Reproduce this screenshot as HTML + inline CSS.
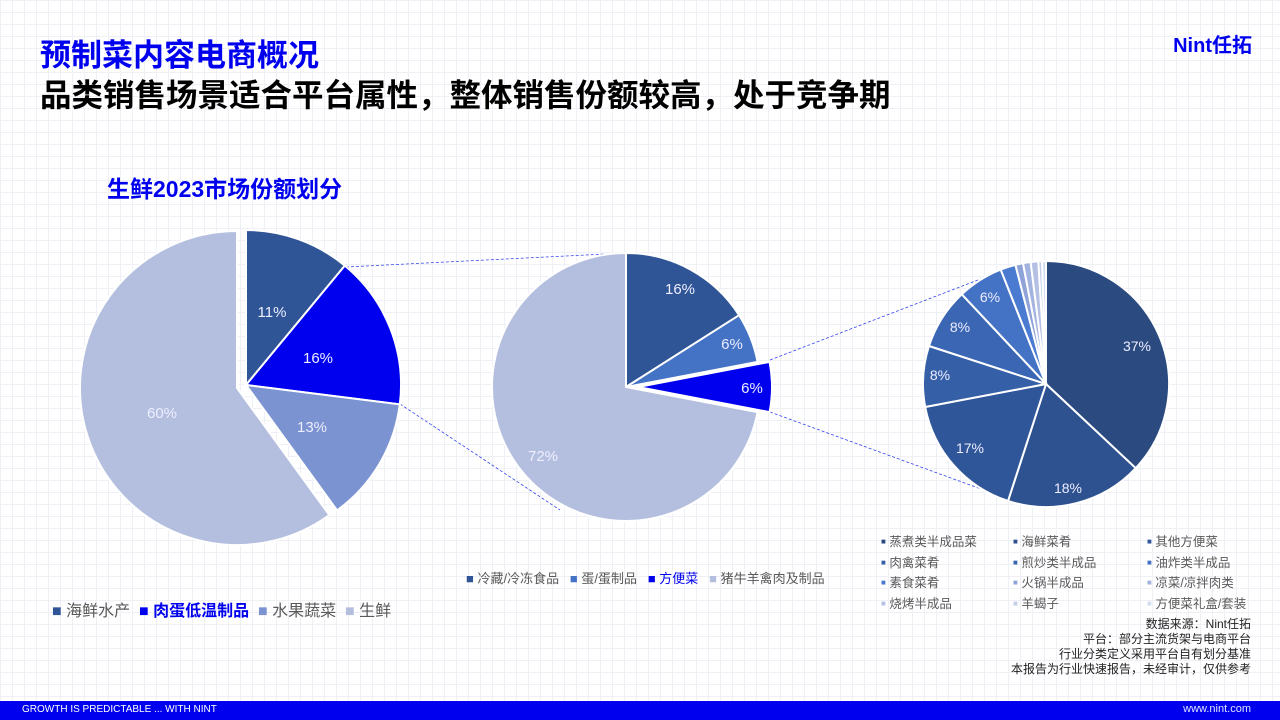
<!DOCTYPE html>
<html><head><meta charset="utf-8">
<style>
body{margin:0;}
#p{position:relative;width:1280px;height:720px;overflow:hidden;background:#fff;
background-image:linear-gradient(#eef0f6 1px,transparent 1px),linear-gradient(90deg,#eef0f6 1px,transparent 1px);background-size:12px 12px;
font-family:"Liberation Sans","Noto Sans CJK SC",sans-serif;}
.a{position:absolute;white-space:nowrap;}
svg{position:absolute;left:0;top:0;}
</style></head><body><div id="p">
<div class="a" style="left:40px;top:30px;font-size:31px;font-weight:bold;color:#0000ee;">预制菜内容电商概况</div>
<div class="a" style="left:40px;top:70px;font-size:31.5px;font-weight:bold;color:#000;">品类销售场景适合平台属性，整体销售份额较高，处于竞争期</div>
<div class="a" style="right:28px;top:29px;font-size:20px;font-weight:bold;color:#0000ee;">Nint任拓</div>
<div class="a" style="left:107px;top:170px;font-size:23px;font-weight:bold;color:#0000ee;">生鲜2023市场份额划分</div>
<svg id="s" width="1280" height="720"></svg>
<div class="a" style="left:52px;top:597px;font-size:16px;color:#595959;"><span style="color:#2f5597">■</span> 海鲜水产 &nbsp;<span style="color:#0000ee;font-weight:bold">■ 肉蛋低温制品</span> &nbsp;<span style="color:#7b93d0">■</span> 水果蔬菜 &nbsp;<span style="color:#b4bfdf">■</span> 生鲜</div>
<div class="a" style="left:466px;top:568px;font-size:13px;color:#595959;"><span style="color:#2f5597">■</span> 冷藏/冷冻食品 &nbsp;&nbsp;<span style="color:#4472c4">■</span> 蛋/蛋制品 &nbsp;&nbsp;<span style="color:#0000ee">■ 方便菜</span> &nbsp;&nbsp;<span style="color:#b4bfdf">■</span> 猪牛羊禽肉及制品</div>
<div id="lg"></div>
<div class="a" style="right:29px;top:617px;font-size:12px;line-height:15px;color:#222;text-align:right;">数据来源：Nint任拓<br>平台：部分主流货架与电商平台<br>行业分类定义采用平台自有划分基准<br>本报告为行业快速报告，未经审计，仅供参考</div>
<div class="a" style="left:0;top:701px;width:1280px;height:19px;background:#0000ee;"></div>
<div class="a" style="left:22px;top:704px;font-size:10px;color:#fff;">GROWTH IS PREDICTABLE ... WITH NINT</div>
<div class="a" style="right:29px;top:703px;font-size:11px;color:#dfe3ff;">www.nint.com</div>
</div>
<script>
var s=document.getElementById('s'),h='';
function pt(cx,cy,r,a){a=a*Math.PI/180;return [cx+r*Math.sin(a),cy-r*Math.cos(a)];}
function sl(cx,cy,r,a0,a1,c,sw){var p=pt(cx,cy,r,a0),q=pt(cx,cy,r,a1);var l=(a1-a0)>180?1:0;
h+='<path d="M'+cx+' '+cy+'L'+p[0].toFixed(1)+' '+p[1].toFixed(1)+'A'+r+' '+r+' 0 '+l+' 1 '+q[0].toFixed(1)+' '+q[1].toFixed(1)+'Z" fill="'+c+'" stroke="#fff" stroke-width="'+(sw||0)+'"/>';}
function t(x,y,v,sz){h+='<text x="'+x+'" y="'+y+'" fill="#eef" font-size="'+(sz||15)+'" text-anchor="middle" font-family="Liberation Sans,sans-serif">'+v+'</text>';}
var ds='stroke="#3344ee" stroke-width="0.8" stroke-dasharray="3,2" fill="none"';
h+='<line x1="346" y1="267" x2="626" y2="253" '+ds+'/><line x1="400" y1="404" x2="560" y2="510" '+ds+'/>';
h+='<line x1="770" y1="360" x2="1004" y2="270" '+ds+'/><line x1="770" y1="412" x2="1003" y2="497" '+ds+'/>';
sl(246,385,155,0,39.6,'#2f5597',2);sl(246,385,155,39.6,97.2,'#0000ee',2);sl(246,385,155,97.2,144,'#7b93d0',2);
sl(237,388,157,144,360,'#b4bfdf',2);
t(272,317,'11%');t(318,363,'16%');t(312,432,'13%');t(162,418,'60%');
sl(626,387,134,0,57.6,'#2f5597',2);sl(626,387,134,57.6,79.2,'#4472c4',2);sl(638,387,134,79.2,100.8,'#0000ee',2);sl(626,387,134,100.8,360,'#b4bfdf',2);
t(680,294,'16%');t(732,349,'6%');t(752,393,'6%');t(543,461,'72%');
var v=[37,18,17,8,8,6,2,1,1,1,0.5,0.5],c=['#2a4a80','#2e5290','#30569a','#3560a8','#3a66b4','#4472c4','#4a7bd0','#8fa3d8','#a3b3df','#b4c0e4','#c5cfea','#d3dbef'],a=0;
for(var i=0;i<v.length;i++){var b=a+v[i]*3.6;sl(1046,384,123,a,b,c[i],2);a=b;}
t(1137,351,'37%',14);t(1068,493,'18%',14);t(970,453,'17%',14);t(940,380,'8%',14);t(960,332,'8%',14);t(990,302,'6%',14);
s.innerHTML=h;
var n=['蒸煮类半成品菜','海鲜菜肴','其他方便菜','肉禽菜肴','煎炒类半成品','油炸类半成品','素食菜肴','火锅半成品','凉菜/凉拌肉类','烧烤半成品','羊蝎子','方便菜礼盒/套装'],g='';
var xs=[881,1013,1147];
for(var i=0;i<12;i++){g+='<div class="a" style="left:'+xs[i%3]+'px;top:'+(531+Math.floor(i/3)*20.5)+'px;font-size:12.5px;color:#595959;"><span style="color:'+c[i]+';font-size:8px;vertical-align:2px">■</span> '+n[i]+'</div>';}
document.getElementById('lg').innerHTML=g;
</script>
</body></html>
